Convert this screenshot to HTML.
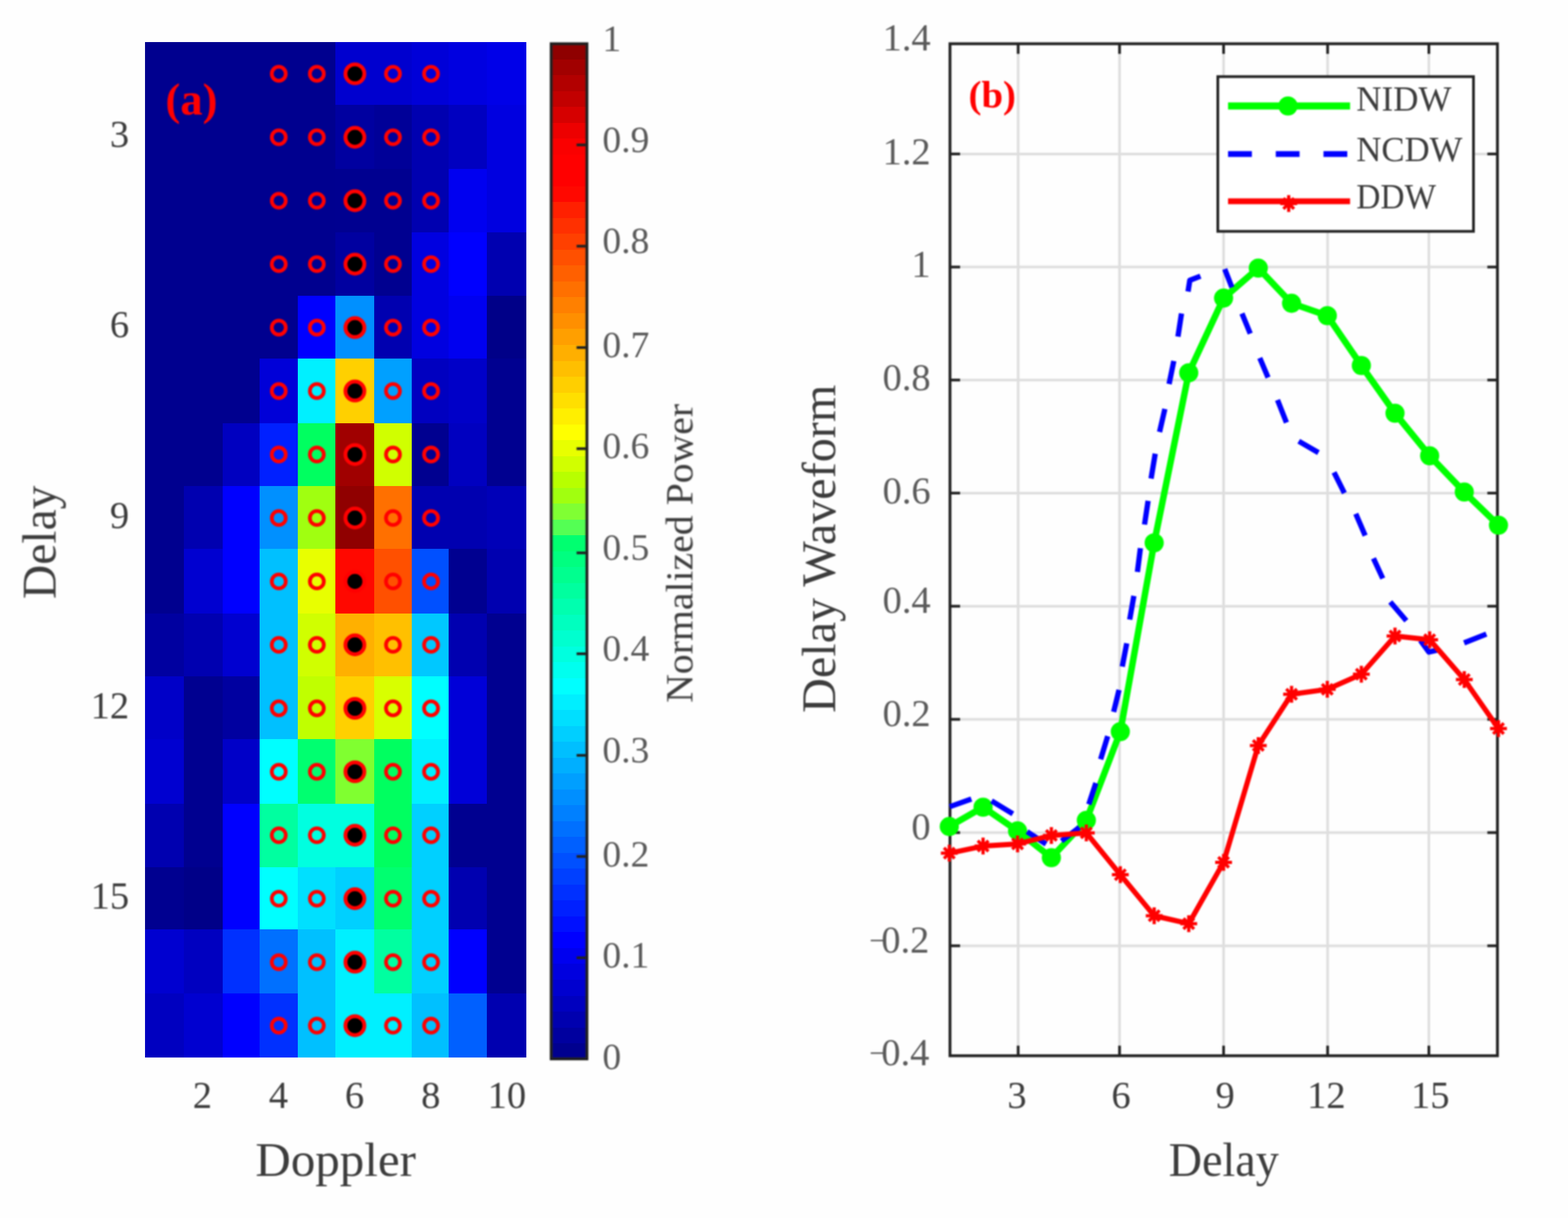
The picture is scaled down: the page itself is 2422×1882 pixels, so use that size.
<!DOCTYPE html>
<html lang="en">
<head>
<meta charset="utf-8">
<title>Delay-Doppler map and delay waveforms</title>
<style>
html, body { margin: 0; padding: 0; background: #FEFEFE; }
body { width: 2422px; height: 1882px; overflow: hidden; }
svg { display: block; }
.b { filter: blur(1px); }
text { font-family: "Liberation Serif", "DejaVu Serif", serif; }
</style>
</head>
<body>
<svg width="2422" height="1882" viewBox="0 0 2422 1882">
<rect x="0" y="0" width="2422" height="1882" fill="#FEFEFE"/>
<g shape-rendering="crispEdges">
<rect x="224.0" y="65.2" width="60.1" height="97.6" fill="#00008F"/>
<rect x="283.5" y="65.2" width="60.7" height="97.6" fill="#00008F"/>
<rect x="343.6" y="65.2" width="58.0" height="97.6" fill="#00008F"/>
<rect x="401.0" y="65.2" width="59.8" height="97.6" fill="#00008F"/>
<rect x="460.2" y="65.2" width="58.4" height="97.6" fill="#00008F"/>
<rect x="518.0" y="65.2" width="60.6" height="97.6" fill="#0000CF"/>
<rect x="578.0" y="65.2" width="58.4" height="97.6" fill="#0000CF"/>
<rect x="635.8" y="65.2" width="57.7" height="97.6" fill="#0000D8"/>
<rect x="692.9" y="65.2" width="60.1" height="97.6" fill="#0000E0"/>
<rect x="752.4" y="65.2" width="60.2" height="97.6" fill="#0000E8"/>
<rect x="224.0" y="162.2" width="60.1" height="99.4" fill="#00008F"/>
<rect x="283.5" y="162.2" width="60.7" height="99.4" fill="#00008F"/>
<rect x="343.6" y="162.2" width="58.0" height="99.4" fill="#00008F"/>
<rect x="401.0" y="162.2" width="59.8" height="99.4" fill="#00008F"/>
<rect x="460.2" y="162.2" width="58.4" height="99.4" fill="#00008F"/>
<rect x="518.0" y="162.2" width="60.6" height="99.4" fill="#0000A0"/>
<rect x="578.0" y="162.2" width="58.4" height="99.4" fill="#000098"/>
<rect x="635.8" y="162.2" width="57.7" height="99.4" fill="#0000B0"/>
<rect x="692.9" y="162.2" width="60.1" height="99.4" fill="#0000C0"/>
<rect x="752.4" y="162.2" width="60.2" height="99.4" fill="#0000E0"/>
<rect x="224.0" y="261.0" width="60.1" height="98.8" fill="#00008F"/>
<rect x="283.5" y="261.0" width="60.7" height="98.8" fill="#00008F"/>
<rect x="343.6" y="261.0" width="58.0" height="98.8" fill="#00008F"/>
<rect x="401.0" y="261.0" width="59.8" height="98.8" fill="#00008F"/>
<rect x="460.2" y="261.0" width="58.4" height="98.8" fill="#00008F"/>
<rect x="518.0" y="261.0" width="60.6" height="98.8" fill="#000090"/>
<rect x="578.0" y="261.0" width="58.4" height="98.8" fill="#000090"/>
<rect x="635.8" y="261.0" width="57.7" height="98.8" fill="#0000B0"/>
<rect x="692.9" y="261.0" width="60.1" height="98.8" fill="#0000F0"/>
<rect x="752.4" y="261.0" width="60.2" height="98.8" fill="#0000E0"/>
<rect x="224.0" y="359.2" width="60.1" height="98.1" fill="#00008F"/>
<rect x="283.5" y="359.2" width="60.7" height="98.1" fill="#00008F"/>
<rect x="343.6" y="359.2" width="58.0" height="98.1" fill="#00008F"/>
<rect x="401.0" y="359.2" width="59.8" height="98.1" fill="#00008F"/>
<rect x="460.2" y="359.2" width="58.4" height="98.1" fill="#00008F"/>
<rect x="518.0" y="359.2" width="60.6" height="98.1" fill="#0000A0"/>
<rect x="578.0" y="359.2" width="58.4" height="98.1" fill="#000090"/>
<rect x="635.8" y="359.2" width="57.7" height="98.1" fill="#0000E0"/>
<rect x="692.9" y="359.2" width="60.1" height="98.1" fill="#0000FF"/>
<rect x="752.4" y="359.2" width="60.2" height="98.1" fill="#0000B0"/>
<rect x="224.0" y="456.7" width="60.1" height="97.6" fill="#00008F"/>
<rect x="283.5" y="456.7" width="60.7" height="97.6" fill="#00008F"/>
<rect x="343.6" y="456.7" width="58.0" height="97.6" fill="#00008F"/>
<rect x="401.0" y="456.7" width="59.8" height="97.6" fill="#00008F"/>
<rect x="460.2" y="456.7" width="58.4" height="97.6" fill="#0000FF"/>
<rect x="518.0" y="456.7" width="60.6" height="97.6" fill="#0090FF"/>
<rect x="578.0" y="456.7" width="58.4" height="97.6" fill="#0000B0"/>
<rect x="635.8" y="456.7" width="57.7" height="97.6" fill="#0000E0"/>
<rect x="692.9" y="456.7" width="60.1" height="97.6" fill="#0000F0"/>
<rect x="752.4" y="456.7" width="60.2" height="97.6" fill="#000088"/>
<rect x="224.0" y="553.7" width="60.1" height="100.8" fill="#00008F"/>
<rect x="283.5" y="553.7" width="60.7" height="100.8" fill="#00008F"/>
<rect x="343.6" y="553.7" width="58.0" height="100.8" fill="#00008F"/>
<rect x="401.0" y="553.7" width="59.8" height="100.8" fill="#0000D8"/>
<rect x="460.2" y="553.7" width="58.4" height="100.8" fill="#00F0FF"/>
<rect x="518.0" y="553.7" width="60.6" height="100.8" fill="#FFD000"/>
<rect x="578.0" y="553.7" width="58.4" height="100.8" fill="#00A0FF"/>
<rect x="635.8" y="553.7" width="57.7" height="100.8" fill="#0000C0"/>
<rect x="692.9" y="553.7" width="60.1" height="100.8" fill="#0000C8"/>
<rect x="752.4" y="553.7" width="60.2" height="100.8" fill="#000090"/>
<rect x="224.0" y="653.9" width="60.1" height="97.3" fill="#00008F"/>
<rect x="283.5" y="653.9" width="60.7" height="97.3" fill="#00008F"/>
<rect x="343.6" y="653.9" width="58.0" height="97.3" fill="#0000C0"/>
<rect x="401.0" y="653.9" width="59.8" height="97.3" fill="#0020FF"/>
<rect x="460.2" y="653.9" width="58.4" height="97.3" fill="#00FF60"/>
<rect x="518.0" y="653.9" width="60.6" height="97.3" fill="#A00000"/>
<rect x="578.0" y="653.9" width="58.4" height="97.3" fill="#D0FF00"/>
<rect x="635.8" y="653.9" width="57.7" height="97.3" fill="#000090"/>
<rect x="692.9" y="653.9" width="60.1" height="97.3" fill="#0000C0"/>
<rect x="752.4" y="653.9" width="60.2" height="97.3" fill="#000090"/>
<rect x="224.0" y="750.6" width="60.1" height="97.8" fill="#00008F"/>
<rect x="283.5" y="750.6" width="60.7" height="97.8" fill="#0000B0"/>
<rect x="343.6" y="750.6" width="58.0" height="97.8" fill="#0000FF"/>
<rect x="401.0" y="750.6" width="59.8" height="97.8" fill="#0090FF"/>
<rect x="460.2" y="750.6" width="58.4" height="97.8" fill="#A0FF10"/>
<rect x="518.0" y="750.6" width="60.6" height="97.8" fill="#900000"/>
<rect x="578.0" y="750.6" width="58.4" height="97.8" fill="#FF7000"/>
<rect x="635.8" y="750.6" width="57.7" height="97.8" fill="#0000B0"/>
<rect x="692.9" y="750.6" width="60.1" height="97.8" fill="#0000B0"/>
<rect x="752.4" y="750.6" width="60.2" height="97.8" fill="#0000B8"/>
<rect x="224.0" y="847.8" width="60.1" height="100.9" fill="#00008F"/>
<rect x="283.5" y="847.8" width="60.7" height="100.9" fill="#0000D0"/>
<rect x="343.6" y="847.8" width="58.0" height="100.9" fill="#0000FF"/>
<rect x="401.0" y="847.8" width="59.8" height="100.9" fill="#00C0FF"/>
<rect x="460.2" y="847.8" width="58.4" height="100.9" fill="#E8FF00"/>
<rect x="518.0" y="847.8" width="60.6" height="100.9" fill="#FF0800"/>
<rect x="578.0" y="847.8" width="58.4" height="100.9" fill="#FF5000"/>
<rect x="635.8" y="847.8" width="57.7" height="100.9" fill="#0050FF"/>
<rect x="692.9" y="847.8" width="60.1" height="100.9" fill="#000090"/>
<rect x="752.4" y="847.8" width="60.2" height="100.9" fill="#0000B0"/>
<rect x="224.0" y="948.1" width="60.1" height="97.3" fill="#0000A0"/>
<rect x="283.5" y="948.1" width="60.7" height="97.3" fill="#0000B0"/>
<rect x="343.6" y="948.1" width="58.0" height="97.3" fill="#0000D0"/>
<rect x="401.0" y="948.1" width="59.8" height="97.3" fill="#00C0FF"/>
<rect x="460.2" y="948.1" width="58.4" height="97.3" fill="#D0FF00"/>
<rect x="518.0" y="948.1" width="60.6" height="97.3" fill="#FFB000"/>
<rect x="578.0" y="948.1" width="58.4" height="97.3" fill="#FFC000"/>
<rect x="635.8" y="948.1" width="57.7" height="97.3" fill="#00C8FF"/>
<rect x="692.9" y="948.1" width="60.1" height="97.3" fill="#0000B0"/>
<rect x="752.4" y="948.1" width="60.2" height="97.3" fill="#000090"/>
<rect x="224.0" y="1044.8" width="60.1" height="97.9" fill="#0000C8"/>
<rect x="283.5" y="1044.8" width="60.7" height="97.9" fill="#000090"/>
<rect x="343.6" y="1044.8" width="58.0" height="97.9" fill="#0000A0"/>
<rect x="401.0" y="1044.8" width="59.8" height="97.9" fill="#00C0FF"/>
<rect x="460.2" y="1044.8" width="58.4" height="97.9" fill="#C0FF00"/>
<rect x="518.0" y="1044.8" width="60.6" height="97.9" fill="#FFD000"/>
<rect x="578.0" y="1044.8" width="58.4" height="97.9" fill="#D8FF00"/>
<rect x="635.8" y="1044.8" width="57.7" height="97.9" fill="#00FFFF"/>
<rect x="692.9" y="1044.8" width="60.1" height="97.9" fill="#0000D8"/>
<rect x="752.4" y="1044.8" width="60.2" height="97.9" fill="#000090"/>
<rect x="224.0" y="1142.1" width="60.1" height="100.3" fill="#0000D0"/>
<rect x="283.5" y="1142.1" width="60.7" height="100.3" fill="#000090"/>
<rect x="343.6" y="1142.1" width="58.0" height="100.3" fill="#0000C8"/>
<rect x="401.0" y="1142.1" width="59.8" height="100.3" fill="#00FFFF"/>
<rect x="460.2" y="1142.1" width="58.4" height="100.3" fill="#00FF70"/>
<rect x="518.0" y="1142.1" width="60.6" height="100.3" fill="#80FF30"/>
<rect x="578.0" y="1142.1" width="58.4" height="100.3" fill="#00FF60"/>
<rect x="635.8" y="1142.1" width="57.7" height="100.3" fill="#00F0FF"/>
<rect x="692.9" y="1142.1" width="60.1" height="100.3" fill="#0000D8"/>
<rect x="752.4" y="1142.1" width="60.2" height="100.3" fill="#000090"/>
<rect x="224.0" y="1241.8" width="60.1" height="98.4" fill="#0000B0"/>
<rect x="283.5" y="1241.8" width="60.7" height="98.4" fill="#000090"/>
<rect x="343.6" y="1241.8" width="58.0" height="98.4" fill="#0000FF"/>
<rect x="401.0" y="1241.8" width="59.8" height="98.4" fill="#00FFA0"/>
<rect x="460.2" y="1241.8" width="58.4" height="98.4" fill="#00FFE0"/>
<rect x="518.0" y="1241.8" width="60.6" height="98.4" fill="#00FFE0"/>
<rect x="578.0" y="1241.8" width="58.4" height="98.4" fill="#00FF60"/>
<rect x="635.8" y="1241.8" width="57.7" height="98.4" fill="#00D0FF"/>
<rect x="692.9" y="1241.8" width="60.1" height="98.4" fill="#000090"/>
<rect x="752.4" y="1241.8" width="60.2" height="98.4" fill="#000090"/>
<rect x="224.0" y="1339.6" width="60.1" height="97.3" fill="#000090"/>
<rect x="283.5" y="1339.6" width="60.7" height="97.3" fill="#000088"/>
<rect x="343.6" y="1339.6" width="58.0" height="97.3" fill="#0000FF"/>
<rect x="401.0" y="1339.6" width="59.8" height="97.3" fill="#00FFFF"/>
<rect x="460.2" y="1339.6" width="58.4" height="97.3" fill="#00E0FF"/>
<rect x="518.0" y="1339.6" width="60.6" height="97.3" fill="#00D0FF"/>
<rect x="578.0" y="1339.6" width="58.4" height="97.3" fill="#00FF70"/>
<rect x="635.8" y="1339.6" width="57.7" height="97.3" fill="#00D0FF"/>
<rect x="692.9" y="1339.6" width="60.1" height="97.3" fill="#0000B0"/>
<rect x="752.4" y="1339.6" width="60.2" height="97.3" fill="#000090"/>
<rect x="224.0" y="1436.3" width="60.1" height="99.3" fill="#0000D0"/>
<rect x="283.5" y="1436.3" width="60.7" height="99.3" fill="#0000C0"/>
<rect x="343.6" y="1436.3" width="58.0" height="99.3" fill="#0030FF"/>
<rect x="401.0" y="1436.3" width="59.8" height="99.3" fill="#0070FF"/>
<rect x="460.2" y="1436.3" width="58.4" height="99.3" fill="#00C0FF"/>
<rect x="518.0" y="1436.3" width="60.6" height="99.3" fill="#00F0FF"/>
<rect x="578.0" y="1436.3" width="58.4" height="99.3" fill="#00FFA0"/>
<rect x="635.8" y="1436.3" width="57.7" height="99.3" fill="#00D0FF"/>
<rect x="692.9" y="1436.3" width="60.1" height="99.3" fill="#0000FF"/>
<rect x="752.4" y="1436.3" width="60.2" height="99.3" fill="#000090"/>
<rect x="224.0" y="1535.0" width="60.1" height="99.4" fill="#0000C0"/>
<rect x="283.5" y="1535.0" width="60.7" height="99.4" fill="#0000D0"/>
<rect x="343.6" y="1535.0" width="58.0" height="99.4" fill="#0000FF"/>
<rect x="401.0" y="1535.0" width="59.8" height="99.4" fill="#0030FF"/>
<rect x="460.2" y="1535.0" width="58.4" height="99.4" fill="#00C0FF"/>
<rect x="518.0" y="1535.0" width="60.6" height="99.4" fill="#00F0FF"/>
<rect x="578.0" y="1535.0" width="58.4" height="99.4" fill="#00F0FF"/>
<rect x="635.8" y="1535.0" width="57.7" height="99.4" fill="#00C0FF"/>
<rect x="692.9" y="1535.0" width="60.1" height="99.4" fill="#0060FF"/>
<rect x="752.4" y="1535.0" width="60.2" height="99.4" fill="#0000B0"/>
</g>
<g class="b">
<circle cx="430.6" cy="114.0" r="10.8" fill="none" stroke="#FF0000" stroke-width="5.8"/>
<circle cx="489.4" cy="114.0" r="10.8" fill="none" stroke="#FF0000" stroke-width="5.8"/>
<circle cx="607.0" cy="114.0" r="10.8" fill="none" stroke="#FF0000" stroke-width="5.8"/>
<circle cx="665.8" cy="114.0" r="10.8" fill="none" stroke="#FF0000" stroke-width="5.8"/>
<circle cx="548.2" cy="114.0" r="14.6" fill="#000" stroke="#FF0000" stroke-width="6"/>
<circle cx="430.6" cy="212.1" r="10.8" fill="none" stroke="#FF0000" stroke-width="5.8"/>
<circle cx="489.4" cy="212.1" r="10.8" fill="none" stroke="#FF0000" stroke-width="5.8"/>
<circle cx="607.0" cy="212.1" r="10.8" fill="none" stroke="#FF0000" stroke-width="5.8"/>
<circle cx="665.8" cy="212.1" r="10.8" fill="none" stroke="#FF0000" stroke-width="5.8"/>
<circle cx="548.2" cy="212.1" r="14.6" fill="#000" stroke="#FF0000" stroke-width="6"/>
<circle cx="430.6" cy="310.1" r="10.8" fill="none" stroke="#FF0000" stroke-width="5.8"/>
<circle cx="489.4" cy="310.1" r="10.8" fill="none" stroke="#FF0000" stroke-width="5.8"/>
<circle cx="607.0" cy="310.1" r="10.8" fill="none" stroke="#FF0000" stroke-width="5.8"/>
<circle cx="665.8" cy="310.1" r="10.8" fill="none" stroke="#FF0000" stroke-width="5.8"/>
<circle cx="548.2" cy="310.1" r="14.6" fill="#000" stroke="#FF0000" stroke-width="6"/>
<circle cx="430.6" cy="408.1" r="10.8" fill="none" stroke="#FF0000" stroke-width="5.8"/>
<circle cx="489.4" cy="408.1" r="10.8" fill="none" stroke="#FF0000" stroke-width="5.8"/>
<circle cx="607.0" cy="408.1" r="10.8" fill="none" stroke="#FF0000" stroke-width="5.8"/>
<circle cx="665.8" cy="408.1" r="10.8" fill="none" stroke="#FF0000" stroke-width="5.8"/>
<circle cx="548.2" cy="408.1" r="14.6" fill="#000" stroke="#FF0000" stroke-width="6"/>
<circle cx="430.6" cy="506.2" r="10.8" fill="none" stroke="#FF0000" stroke-width="5.8"/>
<circle cx="489.4" cy="506.2" r="10.8" fill="none" stroke="#FF0000" stroke-width="5.8"/>
<circle cx="607.0" cy="506.2" r="10.8" fill="none" stroke="#FF0000" stroke-width="5.8"/>
<circle cx="665.8" cy="506.2" r="10.8" fill="none" stroke="#FF0000" stroke-width="5.8"/>
<circle cx="548.2" cy="506.2" r="14.6" fill="#000" stroke="#FF0000" stroke-width="6"/>
<circle cx="430.6" cy="604.2" r="10.8" fill="none" stroke="#FF0000" stroke-width="5.8"/>
<circle cx="489.4" cy="604.2" r="10.8" fill="none" stroke="#FF0000" stroke-width="5.8"/>
<circle cx="607.0" cy="604.2" r="10.8" fill="none" stroke="#FF0000" stroke-width="5.8"/>
<circle cx="665.8" cy="604.2" r="10.8" fill="none" stroke="#FF0000" stroke-width="5.8"/>
<circle cx="548.2" cy="604.2" r="14.6" fill="#000" stroke="#FF0000" stroke-width="6"/>
<circle cx="430.6" cy="702.3" r="10.8" fill="none" stroke="#FF0000" stroke-width="5.8"/>
<circle cx="489.4" cy="702.3" r="10.8" fill="none" stroke="#FF0000" stroke-width="5.8"/>
<circle cx="607.0" cy="702.3" r="10.8" fill="none" stroke="#FF0000" stroke-width="5.8"/>
<circle cx="665.8" cy="702.3" r="10.8" fill="none" stroke="#FF0000" stroke-width="5.8"/>
<circle cx="548.2" cy="702.3" r="14.6" fill="#000" stroke="#FF0000" stroke-width="6"/>
<circle cx="430.6" cy="800.4" r="10.8" fill="none" stroke="#FF0000" stroke-width="5.8"/>
<circle cx="489.4" cy="800.4" r="10.8" fill="none" stroke="#FF0000" stroke-width="5.8"/>
<circle cx="607.0" cy="800.4" r="10.8" fill="none" stroke="#FF0000" stroke-width="5.8"/>
<circle cx="665.8" cy="800.4" r="10.8" fill="none" stroke="#FF0000" stroke-width="5.8"/>
<circle cx="548.2" cy="800.4" r="14.6" fill="#000" stroke="#FF0000" stroke-width="6"/>
<circle cx="430.6" cy="898.4" r="10.8" fill="none" stroke="#FF0000" stroke-width="5.8"/>
<circle cx="489.4" cy="898.4" r="10.8" fill="none" stroke="#FF0000" stroke-width="5.8"/>
<circle cx="607.0" cy="898.4" r="10.8" fill="none" stroke="#FF0000" stroke-width="5.8"/>
<circle cx="665.8" cy="898.4" r="10.8" fill="none" stroke="#FF0000" stroke-width="5.8"/>
<circle cx="548.2" cy="898.4" r="14.6" fill="#000" stroke="#FF0000" stroke-width="6"/>
<circle cx="430.6" cy="996.4" r="10.8" fill="none" stroke="#FF0000" stroke-width="5.8"/>
<circle cx="489.4" cy="996.4" r="10.8" fill="none" stroke="#FF0000" stroke-width="5.8"/>
<circle cx="607.0" cy="996.4" r="10.8" fill="none" stroke="#FF0000" stroke-width="5.8"/>
<circle cx="665.8" cy="996.4" r="10.8" fill="none" stroke="#FF0000" stroke-width="5.8"/>
<circle cx="548.2" cy="996.4" r="14.6" fill="#000" stroke="#FF0000" stroke-width="6"/>
<circle cx="430.6" cy="1094.5" r="10.8" fill="none" stroke="#FF0000" stroke-width="5.8"/>
<circle cx="489.4" cy="1094.5" r="10.8" fill="none" stroke="#FF0000" stroke-width="5.8"/>
<circle cx="607.0" cy="1094.5" r="10.8" fill="none" stroke="#FF0000" stroke-width="5.8"/>
<circle cx="665.8" cy="1094.5" r="10.8" fill="none" stroke="#FF0000" stroke-width="5.8"/>
<circle cx="548.2" cy="1094.5" r="14.6" fill="#000" stroke="#FF0000" stroke-width="6"/>
<circle cx="430.6" cy="1192.5" r="10.8" fill="none" stroke="#FF0000" stroke-width="5.8"/>
<circle cx="489.4" cy="1192.5" r="10.8" fill="none" stroke="#FF0000" stroke-width="5.8"/>
<circle cx="607.0" cy="1192.5" r="10.8" fill="none" stroke="#FF0000" stroke-width="5.8"/>
<circle cx="665.8" cy="1192.5" r="10.8" fill="none" stroke="#FF0000" stroke-width="5.8"/>
<circle cx="548.2" cy="1192.5" r="14.6" fill="#000" stroke="#FF0000" stroke-width="6"/>
<circle cx="430.6" cy="1290.6" r="10.8" fill="none" stroke="#FF0000" stroke-width="5.8"/>
<circle cx="489.4" cy="1290.6" r="10.8" fill="none" stroke="#FF0000" stroke-width="5.8"/>
<circle cx="607.0" cy="1290.6" r="10.8" fill="none" stroke="#FF0000" stroke-width="5.8"/>
<circle cx="665.8" cy="1290.6" r="10.8" fill="none" stroke="#FF0000" stroke-width="5.8"/>
<circle cx="548.2" cy="1290.6" r="14.6" fill="#000" stroke="#FF0000" stroke-width="6"/>
<circle cx="430.6" cy="1388.6" r="10.8" fill="none" stroke="#FF0000" stroke-width="5.8"/>
<circle cx="489.4" cy="1388.6" r="10.8" fill="none" stroke="#FF0000" stroke-width="5.8"/>
<circle cx="607.0" cy="1388.6" r="10.8" fill="none" stroke="#FF0000" stroke-width="5.8"/>
<circle cx="665.8" cy="1388.6" r="10.8" fill="none" stroke="#FF0000" stroke-width="5.8"/>
<circle cx="548.2" cy="1388.6" r="14.6" fill="#000" stroke="#FF0000" stroke-width="6"/>
<circle cx="430.6" cy="1486.7" r="10.8" fill="none" stroke="#FF0000" stroke-width="5.8"/>
<circle cx="489.4" cy="1486.7" r="10.8" fill="none" stroke="#FF0000" stroke-width="5.8"/>
<circle cx="607.0" cy="1486.7" r="10.8" fill="none" stroke="#FF0000" stroke-width="5.8"/>
<circle cx="665.8" cy="1486.7" r="10.8" fill="none" stroke="#FF0000" stroke-width="5.8"/>
<circle cx="548.2" cy="1486.7" r="14.6" fill="#000" stroke="#FF0000" stroke-width="6"/>
<circle cx="430.6" cy="1584.8" r="10.8" fill="none" stroke="#FF0000" stroke-width="5.8"/>
<circle cx="489.4" cy="1584.8" r="10.8" fill="none" stroke="#FF0000" stroke-width="5.8"/>
<circle cx="607.0" cy="1584.8" r="10.8" fill="none" stroke="#FF0000" stroke-width="5.8"/>
<circle cx="665.8" cy="1584.8" r="10.8" fill="none" stroke="#FF0000" stroke-width="5.8"/>
<circle cx="548.2" cy="1584.8" r="14.6" fill="#000" stroke="#FF0000" stroke-width="6"/>
<text x="199.5" y="227.2" font-size="59.5" text-anchor="end" fill="#3c3c3c" font-weight="normal">3</text>
<text x="199.5" y="521.3" font-size="59.5" text-anchor="end" fill="#3c3c3c" font-weight="normal">6</text>
<text x="199.5" y="815.5" font-size="59.5" text-anchor="end" fill="#3c3c3c" font-weight="normal">9</text>
<text x="199.5" y="1109.6" font-size="59.5" text-anchor="end" fill="#3c3c3c" font-weight="normal">12</text>
<text x="199.5" y="1403.7" font-size="59.5" text-anchor="end" fill="#3c3c3c" font-weight="normal">15</text>
<text x="312.5" y="1712.0" font-size="59.5" text-anchor="middle" fill="#3c3c3c" font-weight="normal">2</text>
<text x="430.1" y="1712.0" font-size="59.5" text-anchor="middle" fill="#3c3c3c" font-weight="normal">4</text>
<text x="547.7" y="1712.0" font-size="59.5" text-anchor="middle" fill="#3c3c3c" font-weight="normal">6</text>
<text x="665.3" y="1712.0" font-size="59.5" text-anchor="middle" fill="#3c3c3c" font-weight="normal">8</text>
<text x="782.9" y="1712.0" font-size="59.5" text-anchor="middle" fill="#3c3c3c" font-weight="normal">10</text>
<text x="518.5" y="1817.0" font-size="75" text-anchor="middle" fill="#3c3c3c" font-weight="normal" textLength="248.0" lengthAdjust="spacingAndGlyphs">Doppler</text>
<text x="85.8" y="838.0" font-size="75" text-anchor="middle" fill="#3c3c3c" font-weight="normal" transform="rotate(-90 85.8 838.0)" textLength="175.0" lengthAdjust="spacingAndGlyphs">Delay</text>
<text x="255.5" y="176.5" font-size="69" text-anchor="start" fill="#FF0000" font-weight="bold">(a)</text>
</g>
<g shape-rendering="crispEdges">
<rect x="851.4" y="67.00" width="55.2" height="25.02" fill="#8F0000"/>
<rect x="851.4" y="91.53" width="55.2" height="25.02" fill="#A10000"/>
<rect x="851.4" y="116.05" width="55.2" height="25.02" fill="#B20000"/>
<rect x="851.4" y="140.57" width="55.2" height="25.02" fill="#C20000"/>
<rect x="851.4" y="165.10" width="55.2" height="25.02" fill="#D60000"/>
<rect x="851.4" y="189.62" width="55.2" height="25.02" fill="#ED0000"/>
<rect x="851.4" y="214.15" width="55.2" height="25.02" fill="#FA0000"/>
<rect x="851.4" y="238.67" width="55.2" height="25.02" fill="#FF0000"/>
<rect x="851.4" y="263.20" width="55.2" height="25.02" fill="#FF0000"/>
<rect x="851.4" y="287.73" width="55.2" height="25.02" fill="#FF0800"/>
<rect x="851.4" y="312.25" width="55.2" height="25.02" fill="#FF2000"/>
<rect x="851.4" y="336.77" width="55.2" height="25.02" fill="#FF3000"/>
<rect x="851.4" y="361.30" width="55.2" height="25.02" fill="#FF4000"/>
<rect x="851.4" y="385.82" width="55.2" height="25.02" fill="#FF5000"/>
<rect x="851.4" y="410.35" width="55.2" height="25.02" fill="#FF6000"/>
<rect x="851.4" y="434.88" width="55.2" height="25.02" fill="#FF7000"/>
<rect x="851.4" y="459.40" width="55.2" height="25.02" fill="#FF8000"/>
<rect x="851.4" y="483.92" width="55.2" height="25.02" fill="#FF8F00"/>
<rect x="851.4" y="508.45" width="55.2" height="25.02" fill="#FF9F00"/>
<rect x="851.4" y="532.97" width="55.2" height="25.02" fill="#FFAF00"/>
<rect x="851.4" y="557.50" width="55.2" height="25.02" fill="#FFBF00"/>
<rect x="851.4" y="582.02" width="55.2" height="25.02" fill="#FFCF00"/>
<rect x="851.4" y="606.55" width="55.2" height="25.02" fill="#FFDF00"/>
<rect x="851.4" y="631.07" width="55.2" height="25.02" fill="#FFEF00"/>
<rect x="851.4" y="655.60" width="55.2" height="25.02" fill="#FFFF00"/>
<rect x="851.4" y="680.12" width="55.2" height="25.02" fill="#E8FF00"/>
<rect x="851.4" y="704.65" width="55.2" height="25.02" fill="#D1FF00"/>
<rect x="851.4" y="729.17" width="55.2" height="25.02" fill="#B8FF00"/>
<rect x="851.4" y="753.70" width="55.2" height="25.02" fill="#A1FF0F"/>
<rect x="851.4" y="778.22" width="55.2" height="25.02" fill="#80FF33"/>
<rect x="851.4" y="802.75" width="55.2" height="25.02" fill="#54FF54"/>
<rect x="851.4" y="827.27" width="55.2" height="25.02" fill="#00FF70"/>
<rect x="851.4" y="851.80" width="55.2" height="25.02" fill="#00FF80"/>
<rect x="851.4" y="876.32" width="55.2" height="25.02" fill="#00FF8F"/>
<rect x="851.4" y="900.85" width="55.2" height="25.02" fill="#00FF9F"/>
<rect x="851.4" y="925.38" width="55.2" height="25.02" fill="#00FFAF"/>
<rect x="851.4" y="949.90" width="55.2" height="25.02" fill="#00FFBF"/>
<rect x="851.4" y="974.42" width="55.2" height="25.02" fill="#00FFCF"/>
<rect x="851.4" y="998.95" width="55.2" height="25.02" fill="#00FFDF"/>
<rect x="851.4" y="1023.47" width="55.2" height="25.02" fill="#00FFEF"/>
<rect x="851.4" y="1048.00" width="55.2" height="25.02" fill="#00FFFF"/>
<rect x="851.4" y="1072.53" width="55.2" height="25.02" fill="#00EFFF"/>
<rect x="851.4" y="1097.05" width="55.2" height="25.02" fill="#00DFFF"/>
<rect x="851.4" y="1121.58" width="55.2" height="25.02" fill="#00CFFF"/>
<rect x="851.4" y="1146.10" width="55.2" height="25.02" fill="#00BFFF"/>
<rect x="851.4" y="1170.62" width="55.2" height="25.02" fill="#00AFFF"/>
<rect x="851.4" y="1195.15" width="55.2" height="25.02" fill="#009FFF"/>
<rect x="851.4" y="1219.67" width="55.2" height="25.02" fill="#008FFF"/>
<rect x="851.4" y="1244.20" width="55.2" height="25.02" fill="#0080FF"/>
<rect x="851.4" y="1268.72" width="55.2" height="25.02" fill="#0070FF"/>
<rect x="851.4" y="1293.25" width="55.2" height="25.02" fill="#0060FF"/>
<rect x="851.4" y="1317.77" width="55.2" height="25.02" fill="#0050FF"/>
<rect x="851.4" y="1342.30" width="55.2" height="25.02" fill="#0040FF"/>
<rect x="851.4" y="1366.82" width="55.2" height="25.02" fill="#0030FF"/>
<rect x="851.4" y="1391.35" width="55.2" height="25.02" fill="#0020FF"/>
<rect x="851.4" y="1415.88" width="55.2" height="25.02" fill="#0010FF"/>
<rect x="851.4" y="1440.40" width="55.2" height="25.02" fill="#0000FF"/>
<rect x="851.4" y="1464.92" width="55.2" height="25.02" fill="#0000EF"/>
<rect x="851.4" y="1489.45" width="55.2" height="25.02" fill="#0000DF"/>
<rect x="851.4" y="1513.97" width="55.2" height="25.02" fill="#0000CF"/>
<rect x="851.4" y="1538.50" width="55.2" height="25.02" fill="#0000BF"/>
<rect x="851.4" y="1563.02" width="55.2" height="25.02" fill="#0000AF"/>
<rect x="851.4" y="1587.55" width="55.2" height="25.02" fill="#00009F"/>
<rect x="851.4" y="1612.07" width="55.2" height="25.02" fill="#00008F"/>
</g>
<g class="b">
<rect x="851.4" y="67.6" width="55.2" height="1568.5" fill="none" stroke="#222222" stroke-width="4.4"/>
<text x="930.5" y="1652.0" font-size="58" text-anchor="start" fill="#5a5a5a" font-weight="normal">0</text>
<line x1="890.6" y1="1479.9" x2="906.6" y2="1479.9" stroke="#222222" stroke-width="4.2"/>
<text x="930.5" y="1494.8" font-size="58" text-anchor="start" fill="#5a5a5a" font-weight="normal">0.1</text>
<line x1="890.6" y1="1323.4" x2="906.6" y2="1323.4" stroke="#222222" stroke-width="4.2"/>
<text x="930.5" y="1338.9" font-size="58" text-anchor="start" fill="#5a5a5a" font-weight="normal">0.2</text>
<line x1="890.6" y1="1167.2" x2="906.6" y2="1167.2" stroke="#222222" stroke-width="4.2"/>
<text x="930.5" y="1177.9" font-size="58" text-anchor="start" fill="#5a5a5a" font-weight="normal">0.3</text>
<line x1="890.6" y1="1010.2" x2="906.6" y2="1010.2" stroke="#222222" stroke-width="4.2"/>
<text x="930.5" y="1020.6" font-size="58" text-anchor="start" fill="#5a5a5a" font-weight="normal">0.4</text>
<line x1="890.6" y1="854.3" x2="906.6" y2="854.3" stroke="#222222" stroke-width="4.2"/>
<text x="930.5" y="864.7" font-size="58" text-anchor="start" fill="#5a5a5a" font-weight="normal">0.5</text>
<line x1="890.6" y1="693.3" x2="906.6" y2="693.3" stroke="#222222" stroke-width="4.2"/>
<text x="930.5" y="708.2" font-size="58" text-anchor="start" fill="#5a5a5a" font-weight="normal">0.6</text>
<line x1="890.6" y1="537.0" x2="906.6" y2="537.0" stroke="#222222" stroke-width="4.2"/>
<text x="930.5" y="551.5" font-size="58" text-anchor="start" fill="#5a5a5a" font-weight="normal">0.7</text>
<line x1="890.6" y1="380.4" x2="906.6" y2="380.4" stroke="#222222" stroke-width="4.2"/>
<text x="930.5" y="391.2" font-size="58" text-anchor="start" fill="#5a5a5a" font-weight="normal">0.8</text>
<line x1="890.6" y1="223.9" x2="906.6" y2="223.9" stroke="#222222" stroke-width="4.2"/>
<text x="930.5" y="235.0" font-size="58" text-anchor="start" fill="#5a5a5a" font-weight="normal">0.9</text>
<text x="930.5" y="78.5" font-size="58" text-anchor="start" fill="#5a5a5a" font-weight="normal">1</text>
<text x="1069.5" y="855.0" font-size="59.5" text-anchor="middle" fill="#3c3c3c" font-weight="normal" transform="rotate(-90 1069.5 855.0)" textLength="462.0" lengthAdjust="spacingAndGlyphs">Normalized Power</text>
<line x1="1572.7" y1="67.6" x2="1572.7" y2="1631.3" stroke="#DEDEDE" stroke-width="4"/>
<line x1="1729.3" y1="67.6" x2="1729.3" y2="1631.3" stroke="#DEDEDE" stroke-width="4"/>
<line x1="1890.0" y1="67.6" x2="1890.0" y2="1631.3" stroke="#DEDEDE" stroke-width="4"/>
<line x1="2050.7" y1="67.6" x2="2050.7" y2="1631.3" stroke="#DEDEDE" stroke-width="4"/>
<line x1="2207.1" y1="67.6" x2="2207.1" y2="1631.3" stroke="#DEDEDE" stroke-width="4"/>
<line x1="1467.4" y1="1461.4" x2="2313.0" y2="1461.4" stroke="#DEDEDE" stroke-width="4"/>
<line x1="1467.4" y1="1286.5" x2="2313.0" y2="1286.5" stroke="#DEDEDE" stroke-width="4"/>
<line x1="1467.4" y1="1111.5" x2="2313.0" y2="1111.5" stroke="#DEDEDE" stroke-width="4"/>
<line x1="1467.4" y1="936.7" x2="2313.0" y2="936.7" stroke="#DEDEDE" stroke-width="4"/>
<line x1="1467.4" y1="761.9" x2="2313.0" y2="761.9" stroke="#DEDEDE" stroke-width="4"/>
<line x1="1467.4" y1="587.2" x2="2313.0" y2="587.2" stroke="#DEDEDE" stroke-width="4"/>
<line x1="1467.4" y1="412.6" x2="2313.0" y2="412.6" stroke="#DEDEDE" stroke-width="4"/>
<line x1="1467.4" y1="237.9" x2="2313.0" y2="237.9" stroke="#DEDEDE" stroke-width="4"/>
<rect x="1467.4" y="67.6" width="845.6" height="1563.7" fill="none" stroke="#222222" stroke-width="4.4"/>
<line x1="1572.7" y1="67.6" x2="1572.7" y2="83.19999999999999" stroke="#222222" stroke-width="4.2"/>
<line x1="1572.7" y1="1631.3" x2="1572.7" y2="1615.7" stroke="#222222" stroke-width="4.2"/>
<line x1="1729.3" y1="67.6" x2="1729.3" y2="83.19999999999999" stroke="#222222" stroke-width="4.2"/>
<line x1="1729.3" y1="1631.3" x2="1729.3" y2="1615.7" stroke="#222222" stroke-width="4.2"/>
<line x1="1890.0" y1="67.6" x2="1890.0" y2="83.19999999999999" stroke="#222222" stroke-width="4.2"/>
<line x1="1890.0" y1="1631.3" x2="1890.0" y2="1615.7" stroke="#222222" stroke-width="4.2"/>
<line x1="2050.7" y1="67.6" x2="2050.7" y2="83.19999999999999" stroke="#222222" stroke-width="4.2"/>
<line x1="2050.7" y1="1631.3" x2="2050.7" y2="1615.7" stroke="#222222" stroke-width="4.2"/>
<line x1="2207.1" y1="67.6" x2="2207.1" y2="83.19999999999999" stroke="#222222" stroke-width="4.2"/>
<line x1="2207.1" y1="1631.3" x2="2207.1" y2="1615.7" stroke="#222222" stroke-width="4.2"/>
<line x1="1467.4" y1="1461.4" x2="1483.0" y2="1461.4" stroke="#222222" stroke-width="4.2"/>
<line x1="2313.0" y1="1461.4" x2="2297.4" y2="1461.4" stroke="#222222" stroke-width="4.2"/>
<line x1="1467.4" y1="1286.5" x2="1483.0" y2="1286.5" stroke="#222222" stroke-width="4.2"/>
<line x1="2313.0" y1="1286.5" x2="2297.4" y2="1286.5" stroke="#222222" stroke-width="4.2"/>
<line x1="1467.4" y1="1111.5" x2="1483.0" y2="1111.5" stroke="#222222" stroke-width="4.2"/>
<line x1="2313.0" y1="1111.5" x2="2297.4" y2="1111.5" stroke="#222222" stroke-width="4.2"/>
<line x1="1467.4" y1="936.7" x2="1483.0" y2="936.7" stroke="#222222" stroke-width="4.2"/>
<line x1="2313.0" y1="936.7" x2="2297.4" y2="936.7" stroke="#222222" stroke-width="4.2"/>
<line x1="1467.4" y1="761.9" x2="1483.0" y2="761.9" stroke="#222222" stroke-width="4.2"/>
<line x1="2313.0" y1="761.9" x2="2297.4" y2="761.9" stroke="#222222" stroke-width="4.2"/>
<line x1="1467.4" y1="587.2" x2="1483.0" y2="587.2" stroke="#222222" stroke-width="4.2"/>
<line x1="2313.0" y1="587.2" x2="2297.4" y2="587.2" stroke="#222222" stroke-width="4.2"/>
<line x1="1467.4" y1="412.6" x2="1483.0" y2="412.6" stroke="#222222" stroke-width="4.2"/>
<line x1="2313.0" y1="412.6" x2="2297.4" y2="412.6" stroke="#222222" stroke-width="4.2"/>
<line x1="1467.4" y1="237.9" x2="1483.0" y2="237.9" stroke="#222222" stroke-width="4.2"/>
<line x1="2313.0" y1="237.9" x2="2297.4" y2="237.9" stroke="#222222" stroke-width="4.2"/>
<polyline points="1466.3,1277.1 1518.5,1247.2 1571.8,1283.9 1624.0,1325.2 1678.0,1267.5 1730.5,1130.5 1782.8,838.7 1836.2,576.0 1890.0,460.6 1943.6,414.2 1995.0,468.6 2050.2,487.8 2102.8,564.8 2154.8,638.5 2208.3,704.2 2261.8,760.3 2314.6,811.5" fill="none" stroke="#00FF00" stroke-width="10" stroke-linejoin="round"/>
<circle cx="1466.3" cy="1277.1" r="14.8" fill="#00FF00"/>
<circle cx="1518.5" cy="1247.2" r="14.8" fill="#00FF00"/>
<circle cx="1571.8" cy="1283.9" r="14.8" fill="#00FF00"/>
<circle cx="1624.0" cy="1325.2" r="14.8" fill="#00FF00"/>
<circle cx="1678.0" cy="1267.5" r="14.8" fill="#00FF00"/>
<circle cx="1730.5" cy="1130.5" r="14.8" fill="#00FF00"/>
<circle cx="1782.8" cy="838.7" r="14.8" fill="#00FF00"/>
<circle cx="1836.2" cy="576.0" r="14.8" fill="#00FF00"/>
<circle cx="1890.0" cy="460.6" r="14.8" fill="#00FF00"/>
<circle cx="1943.6" cy="414.2" r="14.8" fill="#00FF00"/>
<circle cx="1995.0" cy="468.6" r="14.8" fill="#00FF00"/>
<circle cx="2050.2" cy="487.8" r="14.8" fill="#00FF00"/>
<circle cx="2102.8" cy="564.8" r="14.8" fill="#00FF00"/>
<circle cx="2154.8" cy="638.5" r="14.8" fill="#00FF00"/>
<circle cx="2208.3" cy="704.2" r="14.8" fill="#00FF00"/>
<circle cx="2261.8" cy="760.3" r="14.8" fill="#00FF00"/>
<circle cx="2314.6" cy="811.5" r="14.8" fill="#00FF00"/>
<path d="M1467.0,1246.5L1500.4,1234.6M1531.6,1237.4L1564.5,1257.5M1586.5,1285.0L1615.8,1304.2M1639.6,1299.6L1667.1,1278.6M1681.8,1242.9L1692.7,1209.9M1700.1,1173.3L1711.0,1137.5M1720.2,1100.0L1728.5,1066.0M1733.5,1030.0L1740.4,994.0M1745.0,957.4L1751.4,920.8M1756.9,883.8L1761.5,847.1M1767.9,810.5L1773.4,773.9M1778.0,739.5L1784.4,701.0M1791.1,667.5L1799.3,631.8M1805.8,593.4L1813.1,557.7M1819.5,520.1L1825.0,484.4M1835.1,450.5L1837.8,433.1L1854.3,426.7M1891.8,415.7L1902.8,444.1M1918.4,484.4L1931.2,515.5M1945.9,553.1L1958.7,583.3M1973.3,618.1L1987.1,652.9M2006.1,681.7L2036.5,699.4M2060.6,729.8L2076.6,761.9M2094.2,793.9L2108.7,827.6M2121.5,862.8L2135.9,893.9M2147.5,930.2L2172.3,959.1M2194.0,989.5L2207.1,1007.5L2220.4,1004.5M2261.5,993.4L2295.9,979.7" fill="none" stroke="#0000FF" stroke-width="8.2" stroke-linejoin="round"/>
<polyline points="1466.3,1318.3 1518.5,1307.3 1571.8,1304.0 1624.0,1290.9 1678.0,1286.9 1730.5,1351.6 1782.8,1415.0 1836.2,1427.2 1890.0,1332.4 1943.6,1151.9 1995.0,1072.8 2050.2,1065.1 2102.8,1041.8 2154.8,982.8 2208.3,988.5 2261.8,1050.0 2314.6,1125.7" fill="none" stroke="#FF0000" stroke-width="8" stroke-linejoin="round"/>
<path d="M1453.3,1318.3H1479.3M1466.3,1305.3V1331.3M1458.1,1310.1L1474.5,1326.5M1458.1,1326.5L1474.5,1310.1" stroke="#FF0000" stroke-width="5" fill="none"/>
<path d="M1505.5,1307.3H1531.5M1518.5,1294.3V1320.3M1510.3,1299.1L1526.7,1315.5M1510.3,1315.5L1526.7,1299.1" stroke="#FF0000" stroke-width="5" fill="none"/>
<path d="M1558.8,1304.0H1584.8M1571.8,1291.0V1317.0M1563.6,1295.8L1580.0,1312.2M1563.6,1312.2L1580.0,1295.8" stroke="#FF0000" stroke-width="5" fill="none"/>
<path d="M1611.0,1290.9H1637.0M1624.0,1277.9V1303.9M1615.8,1282.7L1632.2,1299.1M1615.8,1299.1L1632.2,1282.7" stroke="#FF0000" stroke-width="5" fill="none"/>
<path d="M1665.0,1286.9H1691.0M1678.0,1273.9V1299.9M1669.8,1278.7L1686.2,1295.1M1669.8,1295.1L1686.2,1278.7" stroke="#FF0000" stroke-width="5" fill="none"/>
<path d="M1717.5,1351.6H1743.5M1730.5,1338.6V1364.6M1722.3,1343.4L1738.7,1359.8M1722.3,1359.8L1738.7,1343.4" stroke="#FF0000" stroke-width="5" fill="none"/>
<path d="M1769.8,1415.0H1795.8M1782.8,1402.0V1428.0M1774.6,1406.8L1791.0,1423.2M1774.6,1423.2L1791.0,1406.8" stroke="#FF0000" stroke-width="5" fill="none"/>
<path d="M1823.2,1427.2H1849.2M1836.2,1414.2V1440.2M1828.0,1419.0L1844.4,1435.4M1828.0,1435.4L1844.4,1419.0" stroke="#FF0000" stroke-width="5" fill="none"/>
<path d="M1877.0,1332.4H1903.0M1890.0,1319.4V1345.4M1881.8,1324.2L1898.2,1340.6M1881.8,1340.6L1898.2,1324.2" stroke="#FF0000" stroke-width="5" fill="none"/>
<path d="M1930.6,1151.9H1956.6M1943.6,1138.9V1164.9M1935.4,1143.7L1951.8,1160.1M1935.4,1160.1L1951.8,1143.7" stroke="#FF0000" stroke-width="5" fill="none"/>
<path d="M1982.0,1072.8H2008.0M1995.0,1059.8V1085.8M1986.8,1064.6L2003.2,1081.0M1986.8,1081.0L2003.2,1064.6" stroke="#FF0000" stroke-width="5" fill="none"/>
<path d="M2037.2,1065.1H2063.2M2050.2,1052.1V1078.1M2042.0,1056.9L2058.4,1073.3M2042.0,1073.3L2058.4,1056.9" stroke="#FF0000" stroke-width="5" fill="none"/>
<path d="M2089.8,1041.8H2115.8M2102.8,1028.8V1054.8M2094.6,1033.6L2111.0,1050.0M2094.6,1050.0L2111.0,1033.6" stroke="#FF0000" stroke-width="5" fill="none"/>
<path d="M2141.8,982.8H2167.8M2154.8,969.8V995.8M2146.6,974.6L2163.0,991.0M2146.6,991.0L2163.0,974.6" stroke="#FF0000" stroke-width="5" fill="none"/>
<path d="M2195.3,988.5H2221.3M2208.3,975.5V1001.5M2200.1,980.3L2216.5,996.7M2200.1,996.7L2216.5,980.3" stroke="#FF0000" stroke-width="5" fill="none"/>
<path d="M2248.8,1050.0H2274.8M2261.8,1037.0V1063.0M2253.6,1041.8L2270.0,1058.2M2253.6,1058.2L2270.0,1041.8" stroke="#FF0000" stroke-width="5" fill="none"/>
<path d="M2301.6,1125.7H2327.6M2314.6,1112.7V1138.7M2306.4,1117.5L2322.8,1133.9M2306.4,1133.9L2322.8,1117.5" stroke="#FF0000" stroke-width="5" fill="none"/>
<text x="1570.8" y="1712.0" font-size="59.5" text-anchor="middle" fill="#3c3c3c" font-weight="normal">3</text>
<text x="1731.6" y="1712.0" font-size="59.5" text-anchor="middle" fill="#3c3c3c" font-weight="normal">6</text>
<text x="1892.3" y="1712.0" font-size="59.5" text-anchor="middle" fill="#3c3c3c" font-weight="normal">9</text>
<text x="2048.8" y="1712.0" font-size="59.5" text-anchor="middle" fill="#3c3c3c" font-weight="normal">12</text>
<text x="2209.3" y="1712.0" font-size="59.5" text-anchor="middle" fill="#3c3c3c" font-weight="normal">15</text>
<text x="1435.6" y="1646.3" font-size="59.5" text-anchor="end" fill="#5a5a5a"><tspan font-size="47" dy="-3.5">−</tspan><tspan dx="-8" dy="3.5">0.4</tspan></text>
<text x="1435.6" y="1472.0" font-size="59.5" text-anchor="end" fill="#5a5a5a"><tspan font-size="47" dy="-3.5">−</tspan><tspan dx="-8" dy="3.5">0.2</tspan></text>
<text x="1437.5" y="1297.1" font-size="59.5" text-anchor="end" fill="#5a5a5a" font-weight="normal">0</text>
<text x="1437.5" y="1122.1" font-size="59.5" text-anchor="end" fill="#5a5a5a" font-weight="normal">0.2</text>
<text x="1437.5" y="947.3" font-size="59.5" text-anchor="end" fill="#5a5a5a" font-weight="normal">0.4</text>
<text x="1437.5" y="777.5" font-size="59.5" text-anchor="end" fill="#5a5a5a" font-weight="normal">0.6</text>
<text x="1437.5" y="602.8" font-size="59.5" text-anchor="end" fill="#5a5a5a" font-weight="normal">0.8</text>
<text x="1437.5" y="428.2" font-size="59.5" text-anchor="end" fill="#5a5a5a" font-weight="normal">1</text>
<text x="1437.5" y="253.5" font-size="59.5" text-anchor="end" fill="#5a5a5a" font-weight="normal">1.2</text>
<text x="1437.5" y="77.8" font-size="59.5" text-anchor="end" fill="#5a5a5a" font-weight="normal">1.4</text>
<text x="1890.3" y="1817.0" font-size="75" text-anchor="middle" fill="#3c3c3c" font-weight="normal" textLength="170.0" lengthAdjust="spacingAndGlyphs">Delay</text>
<text x="1290.0" y="848.0" font-size="75" text-anchor="middle" fill="#3c3c3c" font-weight="normal" transform="rotate(-90 1290.0 848.0)" textLength="507.0" lengthAdjust="spacingAndGlyphs">Delay Waveform</text>
<text x="1496.0" y="165.6" font-size="60" text-anchor="start" fill="#FF0000" font-weight="bold">(b)</text>
<rect x="1881.1" y="118.4" width="394.9" height="239.1" fill="#FFFFFF" stroke="#222222" stroke-width="4.2"/>
<line x1="1896.9" y1="163.7" x2="2085.4" y2="163.7" stroke="#00FF00" stroke-width="11"/>
<circle cx="1989.5" cy="163.7" r="14.8" fill="#00FF00"/>
<line x1="1896.9" y1="237.9" x2="2085.4" y2="237.9" stroke="#0000FF" stroke-width="9" stroke-dasharray="36.8 36.9"/>
<line x1="1896.9" y1="311.1" x2="2085.4" y2="311.1" stroke="#FF0000" stroke-width="9"/>
<path d="M1977.6,314.5H2003.6M1990.6,301.5V327.5M1982.4,306.3L1998.8,322.7M1982.4,322.7L1998.8,306.3" stroke="#FF0000" stroke-width="5" fill="none"/>
<text x="2095.0" y="170.7" font-size="54" text-anchor="start" fill="#3c3c3c" font-weight="normal" textLength="147.0" lengthAdjust="spacingAndGlyphs">NIDW</text>
<text x="2095.0" y="249.0" font-size="54" text-anchor="start" fill="#3c3c3c" font-weight="normal" textLength="164.0" lengthAdjust="spacingAndGlyphs">NCDW</text>
<text x="2095.0" y="322.3" font-size="54" text-anchor="start" fill="#3c3c3c" font-weight="normal" textLength="123.0" lengthAdjust="spacingAndGlyphs">DDW</text>
</g>
</svg>
</body>
</html>
